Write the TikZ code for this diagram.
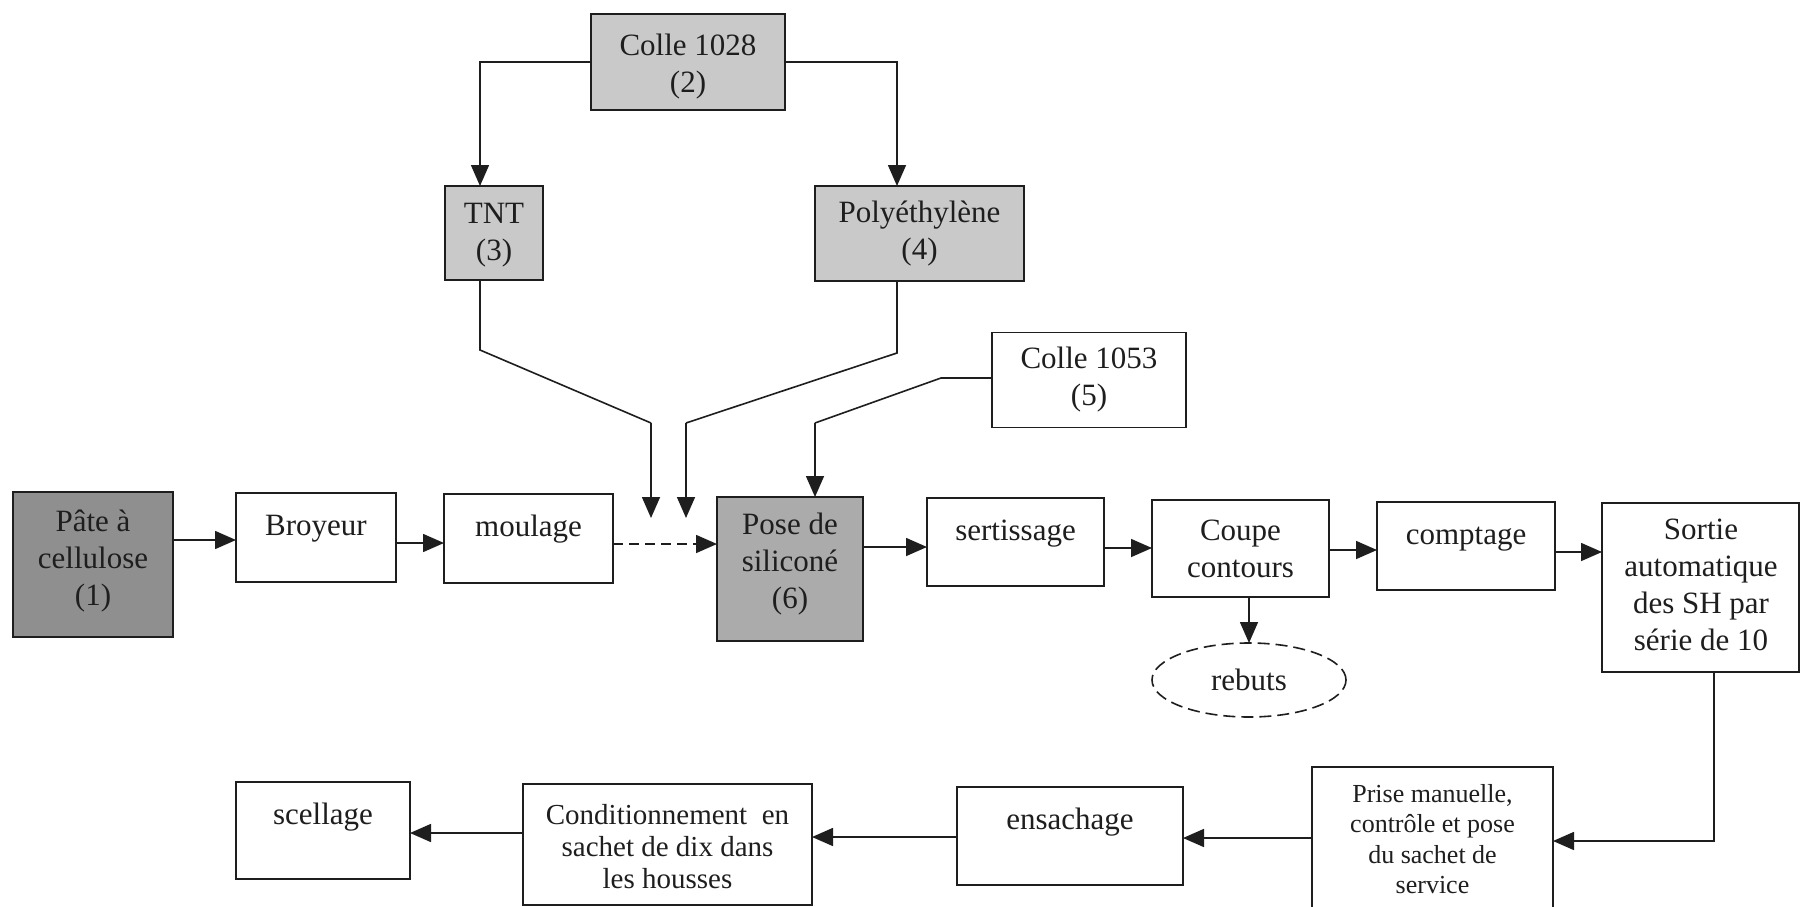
\documentclass[tikz,border=0pt]{standalone}
\usepackage{fontspec}
\setmainfont{Liberation Serif}
\usetikzlibrary{arrows.meta,shapes.geometric}
\definecolor{ink}{HTML}{1E1E1E}
\definecolor{darkfill}{HTML}{8F8F8F}
\definecolor{midfill}{HTML}{ABABAB}
\definecolor{lightfill}{HTML}{C9C9C9}
\begin{document}
\begin{tikzpicture}[x=1pt,y=-1pt,
  box/.style={draw=ink,line width=1.8pt,rectangle,inner sep=0pt,outer sep=0pt,
    minimum width=#1},
  box/.default=160pt,
  txt/.style={text=ink,font=\fontsize{31}{37}\selectfont,align=center,inner sep=0pt},
  small/.style={text=ink,font=\fontsize{26}{30.5}\selectfont,align=center,inner sep=0pt},
  cond/.style={text=ink,font=\fontsize{29}{32}\selectfont,align=center,inner sep=0pt},
  arr/.style={draw=ink,line width=1.6pt,-{Triangle[length=21pt,width=18pt]}},
  link/.style={draw=ink,line width=1.6pt}]
\useasboundingbox (0,0) rectangle (1800,907);
\fill[white] (0,0) rectangle (1800,907);

% supply chain above the main line
\node[box=194pt,minimum height=96pt,fill=lightfill] (colle2) at (688,62) {};
\node[txt] (colle2t) at (688,67) {Colle 1028\\(2)};
\node[box=98pt,minimum height=94pt,fill=lightfill] (tnt) at (494,233) {};
\node[txt] (tntt) at (494,235) {TNT\\(3)};
\node[box=209pt,minimum height=95pt,fill=lightfill] (poly) at (919.5,233.5) {};
\node[txt] (polyt) at (poly) {Polyéthylène\\(4)};
\node[box=194pt,minimum height=95pt] (colle5) at (1089,380) {};
\node[txt] (colle5t) at (colle5) {Colle 1053\\(5)};

% main production line
\node[box=160pt,minimum height=145pt,fill=darkfill] (pate) at (93,564.5) {};
\node[txt] (patet) at (93,561) {Pâte à\\cellulose\\(1)};
\node[box=160pt,minimum height=89pt] (broyeur) at (316,537.5) {};
\node[txt,anchor=base] (broyeurt) at (316,535) {Broyeur};
\node[box=169pt,minimum height=89pt] (moulage) at (528.5,538.5) {};
\node[txt,anchor=base] (moulaget) at (528.5,536) {moulage};
\node[box=146pt,minimum height=144pt,fill=midfill] (pose) at (790,569) {};
\node[txt] (poset) at (790,564) {Pose de\\siliconé\\(6)};
\node[box=177pt,minimum height=88pt] (sert) at (1015.5,542) {};
\node[txt,anchor=base] (sertt) at (1015.5,540) {sertissage};
\node[box=177pt,minimum height=97pt] (coupe) at (1240.5,548.5) {};
\node[txt] (coupet) at (1240.5,549) {Coupe\\contours};
\node[box=178pt,minimum height=88pt] (comptage) at (1466,546) {};
\node[txt,anchor=base] (comptaget) at (1466,544) {comptage};
\node[box=197pt,minimum height=169pt] (sortie) at (1700.5,587.5) {};
\node[txt] (sortiet) at (1701,585) {Sortie\\automatique\\des SH par\\série de 10};
\node[draw=ink,line width=1.6pt,dash pattern=on 12pt off 6pt,ellipse,
  minimum width=194pt,minimum height=74pt,inner sep=0pt,outer sep=0pt] (rebuts) at (1249,680) {};
\node[txt] (rebutst) at (rebuts) {rebuts};

% packaging line
\node[box=241pt,minimum height=166pt] (prise) at (1432.5,850) {};
\node[small] (priset) at (1432.5,839) {Prise manuelle,\\contrôle et pose\\du sachet de\\service};
\node[box=226pt,minimum height=98pt] (ensachage) at (1070,836) {};
\node[txt,anchor=base] (ensachaget) at (1070,829) {ensachage};
\node[box=289pt,minimum height=121pt] (cond) at (667.5,844.5) {};
\node[cond] (condt) at (667.5,847) {Conditionnement\ \ en\\sachet de dix dans\\les housses};
\node[box=174pt,minimum height=97pt] (scellage) at (323,830.5) {};
\node[txt,anchor=base] (scellaget) at (323,824) {scellage};

% bends of the feed lines
\coordinate (tntbend) at (480,350);
\coordinate (tntdrop) at (651,423);
\coordinate (tntend) at (651,518);
\coordinate (polybend) at (897,353);
\coordinate (polydrop) at (686,423);
\coordinate (polyend) at (686,518);
\coordinate (c5turn) at (941,378);
\coordinate (c5drop) at (815,423);

% feed connectors
\draw[arr] (colle2.west) -| ([xshift=-14pt]tnt.north);
\draw[arr] (colle2.east) -| ([xshift=-22.5pt]poly.north);
\draw[link] ([xshift=-14pt]tnt.south) -- (tntbend) -- (tntdrop);
\draw[arr] (tntdrop) -- (tntend);
\draw[link] ([xshift=-22.5pt]poly.south) -- (polybend) -- (polydrop);
\draw[arr] (polydrop) -- (polyend);
\draw[link] (colle5.west |- c5turn) -- (c5turn) -- (c5drop);
\draw[arr] (c5drop) -- (c5drop |- pose.north);

% main line connectors
\draw[arr] (pate.east |- 0,540) -- (broyeur.west |- 0,540);
\draw[arr] (broyeur.east |- 0,543) -- (moulage.west |- 0,543);
\draw[arr,dash pattern=on 10pt off 6pt] (moulage.east |- 0,544) -- (pose.west |- 0,544);
\draw[arr] (pose.east |- 0,547) -- (sert.west |- 0,547);
\draw[arr] (sert.east |- 0,548) -- (coupe.west |- 0,548);
\draw[arr] (coupe.east |- 0,550) -- (comptage.west |- 0,550);
\draw[arr] (comptage.east |- 0,552) -- (sortie.west |- 0,552);
\draw[arr] (coupe.south -| rebuts.north) -- (rebuts.north);

% return to the packaging line
\draw[arr] ([xshift=13.5pt]sortie.south) |- (prise.east |- 0,841);
\draw[arr] (prise.west |- 0,838) -- (ensachage.east |- 0,838);
\draw[arr] (ensachage.west |- 0,837) -- (cond.east |- 0,837);
\draw[arr] (cond.west |- 0,833) -- (scellage.east |- 0,833);
\end{tikzpicture}
\end{document}
